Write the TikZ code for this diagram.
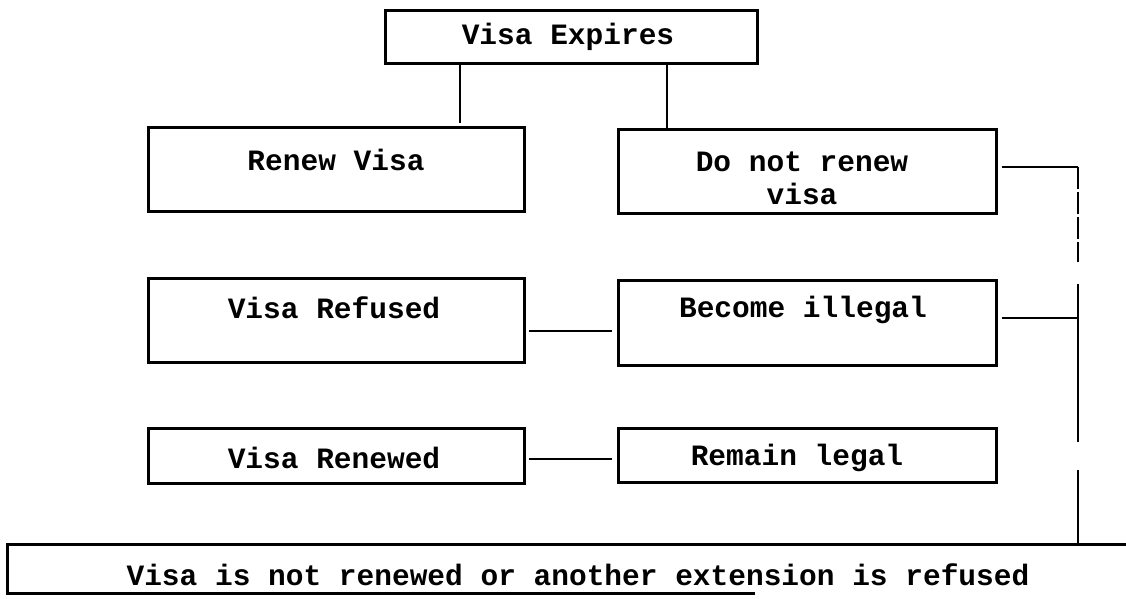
\documentclass[tikz,border=0pt]{standalone}
\usepackage{fontspec}
\setmonofont{Liberation Mono}
\begin{document}
\begin{tikzpicture}[x=1pt,y=-1pt,
  box/.style={draw, line width=3pt, inner sep=0pt},
  txt/.style={font=\ttfamily\bfseries\fontsize{29.5}{33}\selectfont, inner sep=0pt, align=center},
  link/.style={line width=2.4pt},
  rail/.style={line width=1.8pt,
    dash pattern=on 22pt off 3pt on 22pt off 3pt on 22pt off 3pt on 20pt off 22pt on 158pt off 28pt on 80pt off 20pt}]
\useasboundingbox (0,0) rectangle (1126,598);

% boxes
\node[box, minimum width=372pt, minimum height=53pt] (exp) at (571,36.5) {};
\node[box, minimum width=376pt, minimum height=84pt] (renew) at (336,169) {};
\node[box, minimum width=378pt, minimum height=84pt] (dnr) at (807,171) {};
\node[box, minimum width=376pt, minimum height=84pt] (refused) at (336,320) {};
\node[box, minimum width=378pt, minimum height=85pt] (illegal) at (807,322.5) {};
\node[box, minimum width=376pt, minimum height=55pt] (renewed) at (336,455.5) {};
\node[box, minimum width=378pt, minimum height=54pt] (legal) at (807,455) {};

% labels
\node[txt] (expT) at (568,37) {Visa Expires};
\node[txt] (renewT) at (336,160) {Renew Visa};
\node[txt] (dnrT) at (802,178) {Do not renew\\visa};
\node[txt] (refusedT) at (334,308) {Visa Refused};
\node[txt] (illegalT) at (803,310) {Become illegal};
\node[txt] (renewedT) at (334,458) {Visa Renewed};
\node[txt] (legalT) at (797,458) {Remain legal};
\node[txt] (bottomT) at (578,575) {Visa is not renewed or another extension is refused};

% open-ended frame of the bottom statement
\draw[line width=3pt] (1126,544) -- (7,544) -- (7,593) -- (755,593);

% connectors
\draw[link] (exp.south -| 460,0) -- (460,123);
\draw[link] (exp.south -| 667,0) -- (dnr.north -| 667,0);
\draw[link] ([xshift=3pt]refused.east |- 0,331) -- ([xshift=-5pt]illegal.west |- 0,331);
\draw[link] ([xshift=3pt]renewed.east |- 0,459) -- ([xshift=-5pt]legal.west |- 0,459);
\coordinate (railtop) at (1078,167);
\coordinate (railmid) at (1078,318);
\coordinate (railend) at (1078,543);
\draw[link] ([xshift=4pt]dnr.east |- railtop) -- (railtop);
\draw[link] ([xshift=4pt]illegal.east |- railmid) -- (railmid);
\draw[rail] (railtop) -- (railend);
\end{tikzpicture}
\end{document}
